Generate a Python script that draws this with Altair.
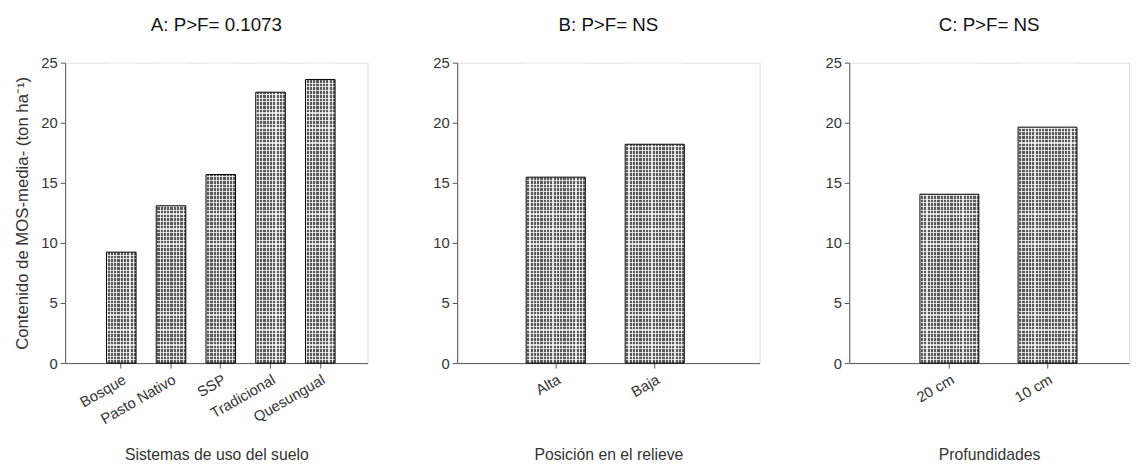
import altair as alt
import pandas as pd

# ---- data ----
sistemas = ["Bosque", "Pasto Nativo", "SSP", "Tradicional", "Quesungual"]
mos_sistemas = [9.23, 13.09, 15.69, 22.54, 23.6]

posicion = ["Alta", "Baja"]
mos_posicion = [15.47, 18.21]

profundidad = ["20 cm", "10 cm"]
mos_profundidad = [14.05, 19.63]

panel_titles = ["A: P>F= 0.1073", "B: P>F= NS", "C: P>F= NS"]
x_titles = ["Sistemas de uso del suelo", "Posición en el relieve", "Profundidades"]
y_title = "Contenido de MOS-media- (ton ha⁻¹)"
y_ticks = [0, 5, 10, 15, 20, 25]
Y_MAX = 25
FONT = "Liberation Sans"


def stripes(n, vertical_lines, base, line, frac=0.3):
    stops = []
    for i in range(n):
        a = i / n
        b = (i + frac) / n
        c = (i + 1) / n
        stops += [
            {"offset": a, "color": line},
            {"offset": b, "color": line},
            {"offset": b, "color": base},
            {"offset": c, "color": base},
        ]
    if vertical_lines:
        return {"gradient": "linear", "x1": 0, "y1": 0, "x2": 1, "y2": 0, "stops": stops}
    return {"gradient": "linear", "x1": 0, "y1": 0, "x2": 0, "y2": 1, "stops": stops}


def panel(cats, vals, title, xtitle, width, p_in, p_out, align, n_vert, show_ytitle):
    df = pd.DataFrame({"cat": cats, "val": vals})
    yscale = alt.Scale(domain=[0, Y_MAX], nice=False)
    yaxis = alt.Axis(
        title=y_title if show_ytitle else None,
        values=y_ticks,
        grid=False,
        tickSize=5,
        labelPadding=3,
        titlePadding=10,
        labelFontSize=15,
        titleFontSize=17,
        titleFontWeight="normal",
        labelColor="#333333",
        titleColor="#333333",
        domainColor="#555555",
        tickColor="#555555",
        labelFont=FONT,
        titleFont=FONT,
    )
    xaxis = alt.Axis(
        title=xtitle,
        labelAngle=-30,
        labelAlign="right",
        labelBaseline="top",
        bandPosition=0.5,
        tickSize=5,
        labelPadding=4,
        labelFontSize=15,
        titleFontSize=16,
        titleFontWeight="normal",
        titleY=85,
        titleBaseline="top",
        labelColor="#333333",
        titleColor="#333333",
        domainColor="#555555",
        tickColor="#555555",
        labelFont=FONT,
        titleFont=FONT,
    )
    xenc = alt.X(
        "cat:N",
        sort=cats,
        scale=alt.Scale(paddingInner=p_in, paddingOuter=p_out, align=align),
        axis=xaxis,
    )
    base = alt.Chart(df).encode(x=xenc)
    top = Y_MAX - 0.1

    b_fill = base.mark_bar(
        fill=stripes(n_vert, True, "#5a5a5a", "#e0e0e0", 0.33), strokeWidth=0
    ).encode(y=alt.Y("val:Q", scale=yscale, axis=yaxis))
    b_h = base.mark_bar(
        fill=stripes(80, False, "rgba(255,255,255,0)", "rgba(255,255,255,0.75)", 0.3),
        strokeWidth=0,
    ).encode(
        y=alt.YDatum(datum=top, type="quantitative", scale=yscale, axis=yaxis),
        y2=alt.Y2Datum(datum=0),
    )
    b_mask = base.mark_bar(fill="white", strokeWidth=0).encode(
        y=alt.Y("val:Q", scale=yscale, axis=yaxis),
        y2=alt.Y2Datum(datum=top),
    )
    b_out = base.mark_bar(fillOpacity=0, stroke="black", strokeWidth=1).encode(
        y=alt.Y("val:Q", scale=yscale, axis=yaxis)
    )
    return alt.layer(b_fill, b_h, b_mask, b_out).properties(
        width=width,
        height=305,
        title=alt.Title(
            title,
            fontSize=19,
            fontWeight="normal",
            font=FONT,
            color="#111111",
            baseline="alphabetic",
            offset=6,
        ),
    )


pA = panel(sistemas, mos_sistemas, panel_titles[0], x_titles[0], 307, 0.406, 0.742, 0.56, 9, True)
pB = panel(posicion, mos_posicion, panel_titles[1], x_titles[1], 307, 0.403, 0.729, 0.478, 18, False)
pC = panel(profundidad, mos_profundidad, panel_titles[2], x_titles[2], 284, 0.4, 0.625, 0.576, 18, False)

chart = (
    alt.hconcat(pA, pB, pC, spacing=64)
    .properties(padding={"left": 4, "top": 4, "right": 0, "bottom": 0})
    .configure_view(stroke="black", strokeWidth=1)
    .configure(background="white")
)

chart.save("out.html", embed_options={"renderer": "svg", "actions": False})
